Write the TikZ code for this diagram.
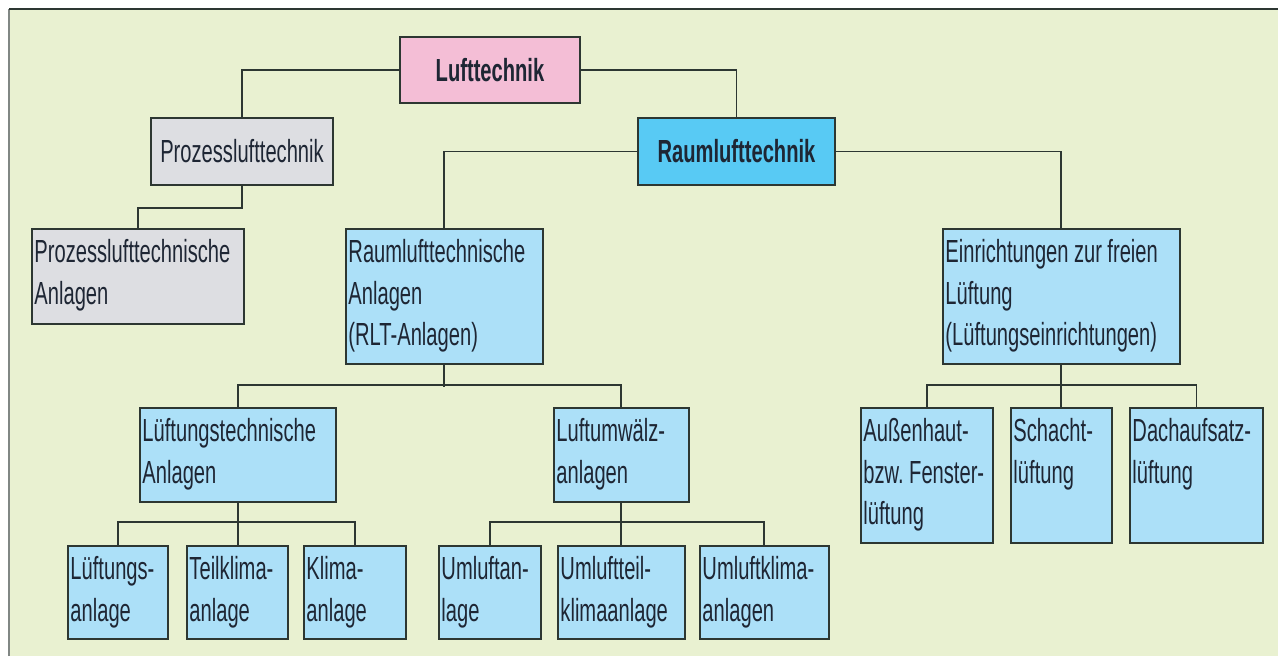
\documentclass[tikz,border=0pt]{standalone}
\usepackage{fontspec}
\setmainfont{Liberation Sans}[FakeStretch=0.63]
\usepackage{tikz}
\usepackage{xcolor}

\definecolor{grund}{RGB}{233,241,209}
\definecolor{rosa}{RGB}{244,190,214}
\definecolor{grau}{RGB}{221,222,226}
\definecolor{blau}{RGB}{88,202,244}
\definecolor{hellblau}{RGB}{172,224,248}
\definecolor{rand}{RGB}{45,55,50}
\definecolor{schrift}{RGB}{30,38,52}

\newcommand{\schriftart}{\fontsize{18.2}{23.5}\selectfont\spaceskip=0.17em\relax\frenchspacing}

\begin{document}
\begin{tikzpicture} %Organigramm Lufttechnik
  [
    x=0.02cm, y=-0.02cm,
    % Stile der Kaesten, damit der Code nicht doppelt steht
    kopf/.style={draw=rand, line width=1.1pt, inner sep=0pt, text=schrift, font=\schriftart\bfseries},
    kasten/.style={draw=rand, fill=hellblau, line width=1.1pt, anchor=north west, align=flush left, inner xsep=0.05cm, inner ysep=0pt, text height=0.68cm, text=schrift, font=\schriftart},
    linie/.style={draw=rand, line width=1.1pt}
  ]
  \useasboundingbox (0,0) rectangle (1278,656);
  \fill[grund] (9,9) rectangle (1278,656);
  \draw[rand!60, line width=1.1pt] (9,656) -- (9,9);
  \draw[rand, line width=1.1pt] (9,9) -- (1278,9);

  \node[kopf, fill=rosa, minimum width=3.6cm, minimum height=1.32cm] (luft) at (490,70) {Lufttechnik};
  \node[kopf, fill=grau, font=\schriftart, minimum width=3.64cm, minimum height=1.34cm] (prozess) at (242,151.5) {Prozesslufttechnik};
  \node[kopf, fill=blau, minimum width=3.94cm, minimum height=1.34cm] (raum) at (736.5,151.5) {Raumlufttechnik};

  \node[kasten, fill=grau, text width=4.14cm, text depth=1.22cm] (pltanl) at (31,228) {Prozesslufttechnische\\Anlagen};
  \node[kasten, text width=3.84cm, text depth=2.02cm] (rltanl) at (345,228) {Raumlufttechnische\\Anlagen\\(RLT-Anlagen)};
  \node[kasten, text width=4.64cm, text depth=2.02cm] (frei) at (942,228) {Einrichtungen zur freien\\Lüftung\\(Lüftungseinrichtungen)};

  \node[kasten, text width=3.82cm, text depth=1.2cm] (lueftanl) at (139,407) {Lüftungstechnische\\Anlagen};
  \node[kasten, text width=2.6cm, text depth=1.2cm] (umwaelz) at (553,407) {Luftumwälz-\\anlagen};
  \node[kasten, text width=2.54cm, text depth=2.02cm] (aussen) at (860,407) {Außenhaut-\\bzw. Fenster-\\lüftung};
  \node[kasten, text width=1.92cm, text depth=2.02cm] (schacht) at (1010,407) {Schacht-\\lüftung};
  \node[kasten, text width=2.56cm, text depth=2.02cm] (dach) at (1129,407) {Dachaufsatz-\\lüftung};

  \node[kasten, text width=1.9cm, text depth=1.18cm] (lanl) at (67,545) {Lüftungs-\\anlage};
  \node[kasten, text width=1.92cm, text depth=1.18cm] (teil) at (186,545) {Teilklima-\\anlage};
  \node[kasten, text width=1.94cm, text depth=1.18cm] (klima) at (303,545) {Klima-\\anlage};
  \node[kasten, text width=1.94cm, text depth=1.18cm] (umanl) at (438,545) {Umluftan-\\lage};
  \node[kasten, text width=2.44cm, text depth=1.18cm] (umteil) at (557,545) {Umluftteil-\\klimaanlage};
  \node[kasten, text width=2.48cm, text depth=1.18cm] (umklima) at (699,545) {Umluftklima-\\anlagen};

  \draw[linie] (luft.west) -| (prozess.north);
  \draw[linie] (luft.east) -| (raum.north);
  \draw[linie] (raum.west) -| (rltanl.north);
  \draw[linie] (raum.east) -| (frei.north);
  \draw[linie] (prozess.south) -- ++(0,22) -| (pltanl.north);

  \draw[linie] (rltanl.south) -- ++(0,22);
  \draw[linie] (lueftanl.north) -- ++(0,-22) -| (umwaelz.north);
  \draw[linie] (frei.south) -- (frei.south |- schacht.north);
  \draw[linie] (aussen.north) -- ++(0,-22) -| (dach.north);

  \draw[linie] (lueftanl.south) -- (lueftanl.south |- teil.north);
  \draw[linie] (lanl.north) -- ++(0,-23) -| (klima.north);
  \draw[linie] (umwaelz.south) -- (umwaelz.south |- umteil.north);
  \draw[linie] (umanl.north) -- ++(0,-23) -| (umklima.north);
\end{tikzpicture}
\end{document}
